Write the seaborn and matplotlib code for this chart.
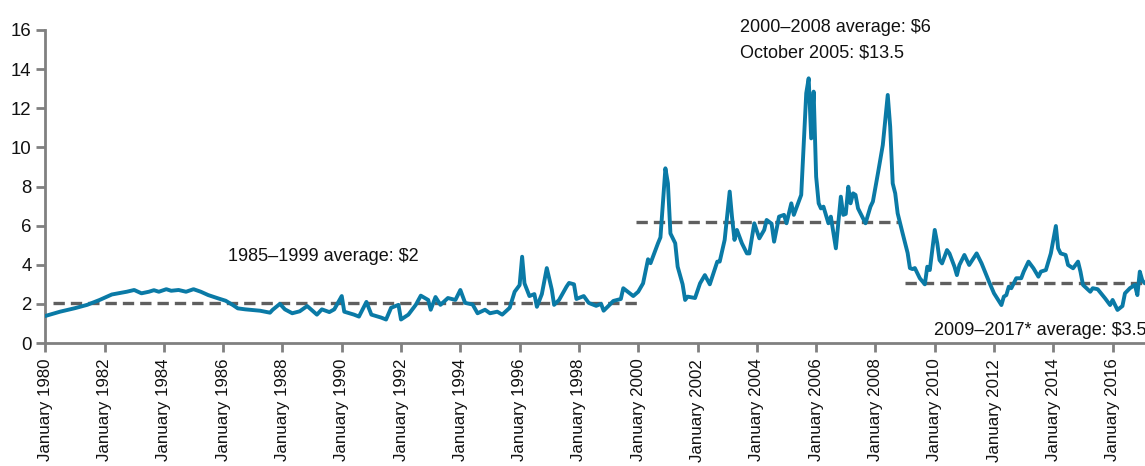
import pandas as pd
import numpy as np
import seaborn as sns
import matplotlib.pyplot as plt
import matplotlib.dates as mdates

# monthly price readings ($ per unit)
months = ['1980-01', '1980-07', '1981-01', '1981-06', '1981-11', '1982-04', '1982-10', '1983-01',
          '1983-04', '1983-07', '1983-09', '1983-11', '1984-02', '1984-04', '1984-07', '1984-10',
          '1985-01', '1985-04', '1985-07', '1985-11', '1986-02', '1986-05', '1986-07', '1986-10',
          '1987-04', '1987-08', '1987-09', '1987-12', '1988-02', '1988-05', '1988-08', '1988-11',
          '1989-03', '1989-05', '1989-08', '1989-10', '1990-01', '1990-02', '1990-06', '1990-08',
          '1990-11', '1991-01', '1991-05', '1991-07', '1991-09', '1991-12', '1992-01', '1992-04',
          '1992-07', '1992-09', '1992-12', '1993-01', '1993-03', '1993-05', '1993-08', '1993-11',
          '1994-01', '1994-03', '1994-06', '1994-08', '1994-11', '1995-01', '1995-04', '1995-06',
          '1995-09', '1995-11', '1996-01', '1996-02', '1996-03', '1996-05', '1996-07', '1996-08',
          '1996-10', '1996-12', '1997-02', '1997-03', '1997-05', '1997-08', '1997-09', '1997-11',
          '1997-12', '1998-03', '1998-05', '1998-08', '1998-10', '1998-11', '1999-01', '1999-03',
          '1999-06', '1999-07', '1999-09', '1999-11', '2000-01', '2000-03', '2000-05', '2000-06',
          '2000-09', '2000-10', '2000-12', '2001-01', '2001-02', '2001-04', '2001-05', '2001-07',
          '2001-08', '2001-09', '2001-12', '2002-02', '2002-04', '2002-06', '2002-09', '2002-10',
          '2002-12', '2003-02', '2003-03', '2003-04', '2003-05', '2003-07', '2003-09', '2003-10',
          '2003-12', '2004-02', '2004-04', '2004-05', '2004-07', '2004-08', '2004-10', '2004-12',
          '2005-01', '2005-03', '2005-04', '2005-07', '2005-09', '2005-10', '2005-11', '2005-12',
          '2006-01', '2006-02', '2006-03', '2006-04', '2006-06', '2006-07', '2006-09', '2006-10',
          '2006-11', '2006-12', '2007-01', '2007-02', '2007-03', '2007-04', '2007-05', '2007-06',
          '2007-09', '2007-11', '2007-12', '2008-02', '2008-04', '2008-06', '2008-07', '2008-08',
          '2008-09', '2008-10', '2008-12', '2009-02', '2009-03', '2009-04', '2009-05', '2009-07',
          '2009-09', '2009-10', '2009-11', '2010-01', '2010-02', '2010-03', '2010-04', '2010-06',
          '2010-07', '2010-09', '2010-10', '2010-11', '2011-01', '2011-03', '2011-06', '2011-08',
          '2011-11', '2012-01', '2012-04', '2012-05', '2012-06', '2012-07', '2012-08', '2012-10',
          '2012-12', '2013-01', '2013-03', '2013-05', '2013-07', '2013-08', '2013-10', '2013-12',
          '2014-02', '2014-03', '2014-04', '2014-06', '2014-07', '2014-09', '2014-11', '2014-12',
          '2015-01', '2015-04', '2015-05', '2015-07', '2015-10', '2015-12', '2016-01', '2016-03',
          '2016-05', '2016-06', '2016-08', '2016-10', '2016-11', '2016-12', '2017-01', '2017-02']
prices = [1.38, 1.60, 1.78, 1.95, 2.20, 2.48, 2.62, 2.71,
          2.54, 2.62, 2.70, 2.62, 2.75, 2.67, 2.71, 2.62,
          2.75, 2.62, 2.45, 2.28, 2.16, 1.94, 1.77, 1.72,
          1.65, 1.55, 1.69, 2.00, 1.72, 1.52, 1.62, 1.89,
          1.45, 1.72, 1.58, 1.72, 2.40, 1.60, 1.45, 1.35,
          2.10, 1.45, 1.30, 1.20, 1.80, 1.95, 1.20, 1.45,
          1.95, 2.42, 2.20, 1.70, 2.35, 1.95, 2.30, 2.20,
          2.71, 2.05, 1.97, 1.52, 1.70, 1.52, 1.60, 1.45,
          1.80, 2.62, 2.96, 4.41, 3.05, 2.40, 2.50, 1.85,
          2.50, 3.83, 2.72, 1.95, 2.20, 2.88, 3.07, 3.00,
          2.25, 2.40, 2.05, 1.90, 2.00, 1.65, 1.90, 2.15,
          2.25, 2.80, 2.60, 2.40, 2.62, 3.05, 4.28, 4.08,
          5.10, 5.40, 8.93, 8.16, 5.60, 5.10, 3.90, 3.00,
          2.20, 2.37, 2.30, 3.05, 3.47, 3.00, 4.16, 4.16,
          5.27, 7.74, 6.46, 5.27, 5.78, 5.10, 4.58, 4.58,
          6.12, 5.35, 5.78, 6.29, 6.10, 5.18, 6.46, 6.55,
          6.12, 7.14, 6.55, 7.57, 12.77, 13.53, 10.46, 12.85,
          8.50, 7.14, 6.88, 6.97, 6.12, 6.46, 4.84, 6.12,
          7.48, 6.55, 6.60, 7.99, 7.14, 7.65, 7.57, 6.88,
          6.12, 6.97, 7.23, 8.67, 10.12, 12.68, 11.06, 8.16,
          7.65, 6.63, 5.61, 4.60, 3.83, 3.78, 3.83, 3.31,
          3.00, 3.90, 3.73, 5.78, 5.10, 4.24, 4.07, 4.75,
          4.58, 3.90, 3.47, 3.99, 4.50, 3.99, 4.58, 4.07,
          3.13, 2.54, 1.94, 2.37, 2.45, 2.88, 2.80, 3.31,
          3.31, 3.65, 4.16, 3.82, 3.39, 3.65, 3.73, 4.58,
          5.98, 4.84, 4.58, 4.50, 3.99, 3.82, 4.16, 3.65,
          2.97, 2.62, 2.80, 2.75, 2.28, 1.94, 2.20, 1.69,
          1.89, 2.54, 2.80, 2.97, 2.45, 3.65, 3.20, 3.05]

# period averages drawn as dashed lines
avg_starts = ['1980-04', '1999-12', '2009-01']
avg_ends = ['2000-01', '2008-11', '2017-03']
avg_values = [2.05, 6.2, 3.07]

df = pd.DataFrame({'date': pd.to_datetime(months), 'price': prices})

sns.set_style('white')
plt.rcParams['font.family'] = ['Liberation Sans', 'DejaVu Sans']

fig = plt.figure(figsize=(11.45, 4.66), dpi=100)
ax = fig.add_axes([45.2 / 1145, 1 - 343 / 466, 1 - 45.2 / 1145, 313 / 466])

for s, e, v in zip(avg_starts, avg_ends, avg_values):
    ax.plot([pd.Timestamp(s), pd.Timestamp(e)], [v, v], color='#5f5f5f', lw=2.4,
            linestyle=(0, (3.4, 1.8)), zorder=2)

sns.lineplot(data=df, x='date', y='price', ax=ax, color='#0a7aa6', lw=2.8, zorder=3)

ax.set_xlim(pd.Timestamp('1980-01-01'), pd.Timestamp('2017-02-03'))
ax.set_ylim(0, 16)
ax.set_yticks(range(0, 17, 2))
ax.xaxis.set_major_locator(mdates.YearLocator(2))
ax.xaxis.set_major_formatter(mdates.DateFormatter('%B %Y'))
ax.set_xlabel('')
ax.set_ylabel('')

for side in ['top', 'right']:
    ax.spines[side].set_visible(False)
for side in ['left', 'bottom']:
    ax.spines[side].set_color('#808080')
    ax.spines[side].set_linewidth(2)
ax.tick_params(axis='both', which='major', direction='out', length=6.3, width=2,
               color='#808080', labelcolor='#111111', left=True, bottom=True)
ax.tick_params(axis='x', labelrotation=90, pad=5, labelsize=12.2)
ax.tick_params(axis='y', pad=3.5, labelsize=13.4)

txt = dict(fontsize=13.0, color='#111111')
ax.text(pd.Timestamp('1986-03-01'), 4.4, '1985–1999 average: $2', va='center', **txt)
ax.text(pd.Timestamp('2003-06-10'), 15.9, '2000–2008 average: $6', va='baseline', **txt)
ax.text(pd.Timestamp('2003-06-10'), 14.6, 'October 2005: $13.5', va='baseline', **txt)
ax.text(pd.Timestamp('2009-12-20'), 0.42, '2009–2017* average: $3.5', va='baseline', **txt)

fig.savefig('out.png', dpi=100)
